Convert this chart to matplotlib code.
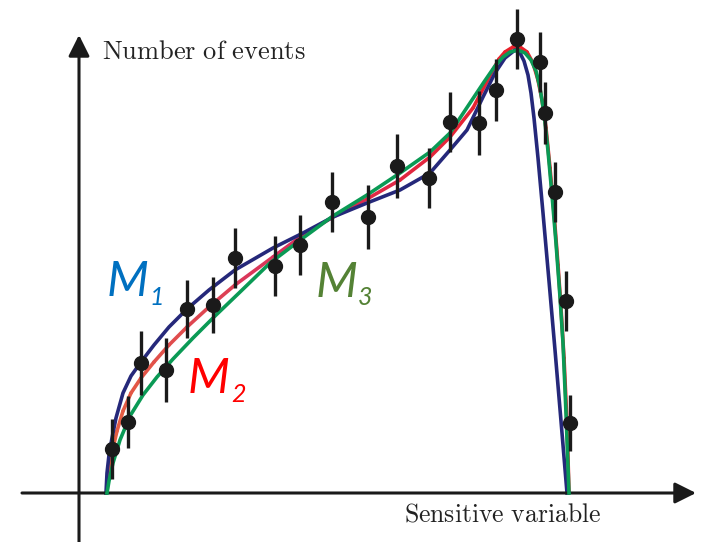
import matplotlib
matplotlib.use("Agg")
import matplotlib.pyplot as plt
import numpy as np
from matplotlib.collections import LineCollection
from matplotlib.colors import to_rgb

plt.rcParams["mathtext.fontset"] = "cm"

# measured points with error bars (x, counts, symmetric error)
data_x = [33, 49, 62, 87, 108, 134, 156, 196, 221, 253, 289,
          318, 350, 371, 400, 417, 438, 461, 466, 476, 487, 491]
data_y = [44, 71, 130, 123, 184, 188, 235, 227, 248, 291, 276,
          327, 315, 371, 370, 403, 454, 431, 380, 301, 192, 70]
data_err = [30, 26, 32, 32, 29, 28, 30, 30, 30, 30, 32,
            32, 30, 30, 32, 31, 30, 30, 31, 30, 30, 28]

# model curves
m1_x = [27, 28, 30, 33, 37, 44, 52, 62, 75, 90, 108, 130, 156, 194, 224, 254,
        288, 321, 351, 371, 388, 404, 416, 426, 436, 441, 445, 449, 452, 455,
        459, 464, 470, 476, 482, 488]
m1_y = [0, 20, 38, 55, 75, 100, 117, 131, 148, 166, 184, 203, 223, 245, 260, 276,
        290, 303, 320, 343, 363, 396, 420, 435, 443, 440, 432, 418, 400, 375,
        335, 280, 212, 143, 72, 0]

m2_x = [28, 29, 31, 34, 38, 44, 52, 62, 75, 90, 108, 130, 156, 194, 224, 254,
        288, 321, 351, 371, 394, 414, 420, 426, 434, 441, 448, 454, 459, 463,
        467, 471, 475, 479, 482, 485, 488, 490]
m2_y = [0, 15, 30, 45, 62, 82, 100, 115, 131, 148, 166, 186, 208, 236, 258, 276,
        294, 313, 336, 356, 385, 423, 434, 441, 446, 446, 441, 430, 413, 393,
        365, 325, 280, 228, 185, 135, 70, 0]

m3_x = [28, 30, 34, 41, 51, 64, 78, 94, 114, 136, 160, 191, 224, 254, 288, 321,
        351, 371, 391, 405, 416, 424, 431, 439, 446, 452, 457, 461, 465, 469,
        473, 477, 481, 484, 487, 490]
m3_y = [0, 12, 30, 53, 77, 98, 116, 134, 155, 177, 200, 230, 255, 277, 298, 320,
        341, 360, 390, 411, 427, 436, 441, 443, 440, 433, 422, 405, 380, 342,
        298, 250, 196, 150, 80, 0]

fig = plt.figure(figsize=(7.05, 5.42), dpi=100)
ax = fig.add_axes([0, 0, 1, 1])
ax.set_xlim(-79, 626)
ax.set_ylim(-49, 493)
ax.axis("off")

axis_col = "#1a1a1a"
ax.annotate("", xy=(617, 0), xytext=(-57, 0),
            arrowprops=dict(arrowstyle="-|>", mutation_scale=32, lw=2.2,
                            color=axis_col, shrinkA=0, shrinkB=0))
ax.annotate("", xy=(0, 458), xytext=(0, -49),
            arrowprops=dict(arrowstyle="-|>", mutation_scale=32, lw=2.2,
                            color=axis_col, shrinkA=0, shrinkB=0))

ax.text(23, 441, r"$\mathrm{Number\ of\ events}$", fontsize=19,
        ha="left", va="center", color="#222222")
ax.text(325, -22, r"$\mathrm{Sensitive\ variable}$", fontsize=18.5,
        ha="left", va="center", color="#222222")

# M2 goes from orange on the left to crimson/red further right
pts = np.column_stack([m2_x, m2_y])
segs = np.stack([pts[:-1], pts[1:]], axis=1)
c_a, c_b, c_c = map(np.array, map(to_rgb, ["#e8673c", "#d8305e", "#e8202a"]))
cols = []
for i in range(len(segs)):
    xm = segs[i, :, 0].mean()
    if xm < 200:
        t = xm / 200
        cols.append(c_a * (1 - t) + c_b * t)
    else:
        t = min((xm - 200) / 230, 1)
        cols.append(c_b * (1 - t) + c_c * t)
ax.add_collection(LineCollection(segs, colors=cols, linewidths=2.6,
                                 capstyle="round", joinstyle="round", zorder=2))

ax.plot(m3_x, m3_y, color="#0a9a55", lw=2.6, solid_joinstyle="round", zorder=3)
ax.plot(m1_x, m1_y, color="#25287a", lw=2.6, solid_joinstyle="round", zorder=2)

ax.errorbar(data_x, data_y, yerr=data_err, fmt="o", color="#1a1a1a",
            markersize=10, elinewidth=2.4, capsize=0, zorder=4)

label_font = "Lato"
ax.text(28, 197, "M", fontsize=35, style="italic", color="#0070c0",
        family=label_font, ha="left", va="baseline")
ax.text(70, 188, "1", fontsize=18, style="italic", color="#0070c0",
        family=label_font, ha="left", va="baseline")
ax.text(109, 100, "M", fontsize=35, style="italic", color="#ff0000",
        family=label_font, ha="left", va="baseline")
ax.text(152, 91, "2", fontsize=18, style="italic", color="#ff0000",
        family=label_font, ha="left", va="baseline")
ax.text(237, 196, "M", fontsize=35, style="italic", color="#548235",
        family=label_font, ha="left", va="baseline")
ax.text(279, 188, "3", fontsize=18, style="italic", color="#548235",
        family=label_font, ha="left", va="baseline")

fig.savefig("out.png", dpi=100)
